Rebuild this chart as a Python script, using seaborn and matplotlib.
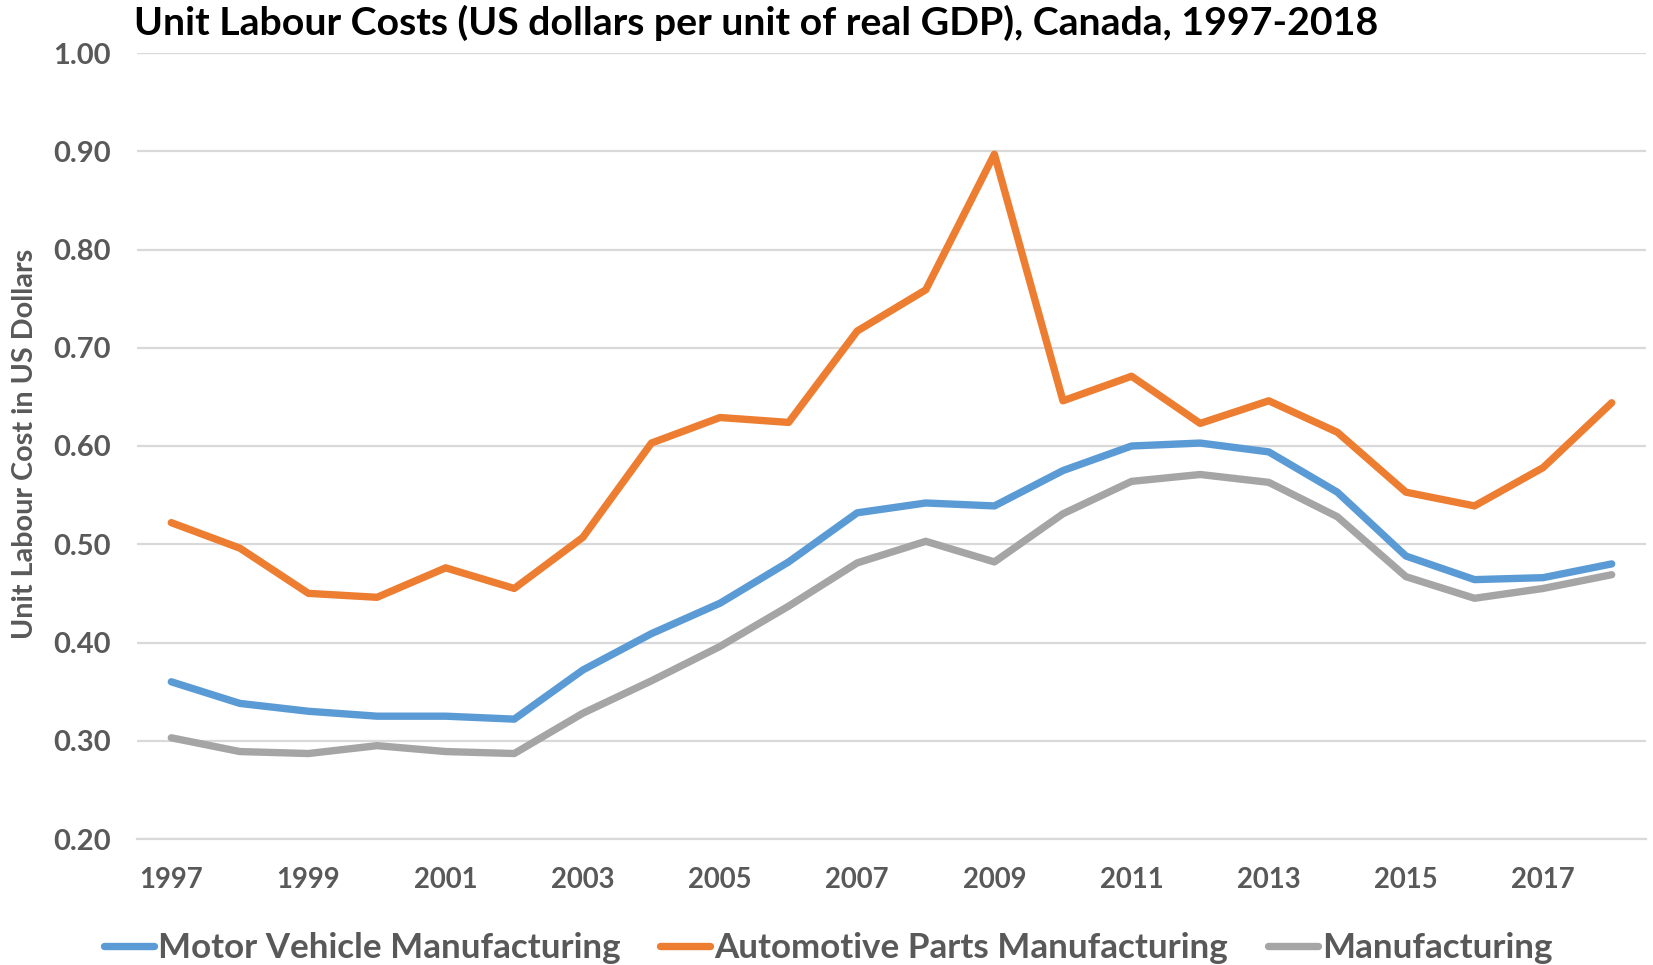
import numpy as np
import pandas as pd
import matplotlib
matplotlib.use("Agg")
import matplotlib.pyplot as plt
from matplotlib.lines import Line2D
import seaborn as sns

# ---- data -------------------------------------------------------------
years = list(range(1997, 2019))

motor_vehicle = [0.360, 0.338, 0.330, 0.325, 0.325, 0.322, 0.372, 0.409,
                 0.440, 0.482, 0.532, 0.542, 0.539, 0.575, 0.600, 0.603,
                 0.594, 0.553, 0.488, 0.464, 0.466, 0.480]

auto_parts = [0.522, 0.496, 0.450, 0.446, 0.476, 0.455, 0.507, 0.603,
              0.629, 0.624, 0.717, 0.759, 0.897, 0.646, 0.671, 0.623,
              0.646, 0.614, 0.553, 0.539, 0.578, 0.644]

manufacturing = [0.303, 0.289, 0.287, 0.295, 0.289, 0.287, 0.328, 0.361,
                 0.396, 0.437, 0.481, 0.503, 0.482, 0.531, 0.564, 0.571,
                 0.563, 0.528, 0.467, 0.445, 0.455, 0.469]

series_names = ["Motor Vehicle Manufacturing",
                "Automotive Parts Manufacturing",
                "Manufacturing"]
series_colors = ["#5B9BD5", "#ED7D31", "#A5A5A5"]

y_ticks = [0.20, 0.30, 0.40, 0.50, 0.60, 0.70, 0.80, 0.90, 1.00]
x_tick_labels = [str(y) if (y - 1997) % 2 == 0 else "" for y in years]

title = "Unit Labour Costs (US dollars per unit of real GDP), Canada, 1997-2018"
y_label = "Unit Labour Cost in US Dollars"

df = pd.DataFrame({
    "Year": years * 3,
    "Cost": motor_vehicle + auto_parts + manufacturing,
    "Series": ([series_names[0]] * len(years) + [series_names[1]] * len(years)
               + [series_names[2]] * len(years)),
})

# ---- style ------------------------------------------------------------
sns.set_theme(style="white")
FONT = ["Lato", "DejaVu Sans"]
plt.rcParams["font.family"] = FONT
TEXT_GREY = "#595959"
GRID_GREY = "#D9D9D9"

W, H, DPI = 1653, 965, 100
fig = plt.figure(figsize=(W / DPI, H / DPI), dpi=DPI)
renderer = fig.canvas.get_renderer()


def fitted_size(text, target_px, base=20.0):
    """Font size (pt) at which bold `text` spans target_px pixels."""
    t = fig.text(0, 0, text, fontsize=base, fontweight="bold")
    w = t.get_window_extent(renderer).width
    t.remove()
    return base * target_px / w


title_fs = fitted_size(title, 1246)
ytick_fs = fitted_size("0.90", 58)
xtick_fs = fitted_size("2001", 64)
legend_fs = fitted_size(series_names[0], 462)
ylabel_fs = fitted_size(y_label, 390)

# plot area in pixels: x 137..1646, y 53..839
left, right, top, bottom = 137, 1646, 53, 839
ax = fig.add_axes([left / W, 1 - bottom / H, (right - left) / W, (bottom - top) / H])

LW = 5.3
sns.lineplot(data=df, x="Year", y="Cost", hue="Series", hue_order=series_names,
             palette=series_colors, linewidth=LW, legend=False, ax=ax,
             solid_capstyle="round", solid_joinstyle="round", zorder=3)

ax.set_xlim(1996.5, 2018.5)
ax.set_ylim(0.20, 1.00)
ax.set_yticks(y_ticks)
ax.set_yticklabels([f"{v:.2f}" for v in y_ticks])
ax.set_xticks(years)
ax.set_xticklabels(x_tick_labels)
ax.set_xticks(np.arange(1996.5, 2019.0, 1.0), minor=True)
ax.set_xlabel("")
ax.set_ylabel("")

ax.grid(axis="y", color=GRID_GREY, linewidth=1.6, zorder=0)
ax.grid(axis="x", visible=False)
for side in ("top", "right", "left"):
    ax.spines[side].set_visible(False)
ax.spines["bottom"].set_color(GRID_GREY)
ax.spines["bottom"].set_linewidth(1.6)
ax.spines["bottom"].set_zorder(1)

ax.tick_params(axis="y", length=0, pad=19, labelsize=ytick_fs, labelcolor=TEXT_GREY)
ax.tick_params(axis="x", which="both", direction="in", length=6.5, width=1.3,
               color=GRID_GREY, pad=20, labelsize=xtick_fs, labelcolor=TEXT_GREY)
for lab in ax.get_xticklabels() + ax.get_yticklabels():
    lab.set_fontweight("bold")

# title and axis title
fig.text(134 / W, 1 - 23 / H, title, ha="left", va="center",
         fontsize=title_fs, fontweight="bold", color="black")
fig.text(25 / W, 1 - 444 / H, y_label, rotation=90, ha="center", va="center",
         fontsize=ylabel_fs, fontweight="bold", color=TEXT_GREY)

# legend along the bottom
px_per_em = legend_fs * DPI / 72
handles = [Line2D([0], [0], color=c, linewidth=LW, solid_capstyle="round")
           for c in series_colors]
leg = fig.legend(handles, series_names, loc="center", ncol=3,
                 bbox_to_anchor=(828 / W, 1 - 948 / H), frameon=False,
                 handlelength=50 / px_per_em, handletextpad=4 / px_per_em,
                 columnspacing=40 / px_per_em, borderpad=0, borderaxespad=0,
                 prop={"size": legend_fs, "weight": "bold"})
for txt in leg.get_texts():
    txt.set_color(TEXT_GREY)

fig.savefig("out.png", dpi=DPI)
